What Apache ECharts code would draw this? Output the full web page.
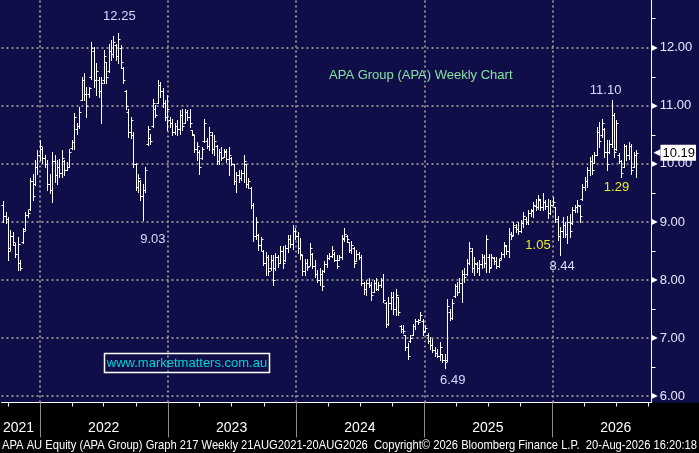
<!DOCTYPE html>
<html>
<head>
<meta charset="utf-8">
<script src="https://cdn.jsdelivr.net/npm/echarts@6/dist/echarts.min.js"></script>
<style>
html,body{margin:0;padding:0;background:#000;}
#c{width:699px;height:453px;}
</style>
</head>
<body>
<div id="c"></div>
<script>
// ---- DATA (weekly OHLC, APA Group) ----
const firstBarDate = '2021-09-17';
const opens = [
9.30,9.10,9.05,8.55,8.75,8.60,8.45,8.30,8.65,8.88,
9.12,9.22,9.70,9.65,9.95,10.15,10.25,10.10,10.00,9.65,
9.55,10.05,9.80,9.95,9.85,10.05,9.90,9.95,10.28,10.38,
10.60,10.65,11.10,11.45,11.20,11.20,11.50,11.95,11.45,11.45,
11.25,11.45,11.75,11.60,11.95,11.90,12.05,11.85,12.00,11.65,
11.25,10.90,10.55,10.50,10.00,9.60,9.70,9.45,9.55,10.35,
10.45,10.65,10.95,11.05,11.35,11.25,11.05,10.80,10.75,10.70,
10.55,10.65,10.60,10.85,10.70,10.90,10.80,10.58,10.50,10.25,
10.20,10.10,10.40,10.40,10.30,10.50,10.25,10.30,10.05,10.20,
10.12,10.20,10.08,10.10,10.00,9.70,9.80,9.75,9.85,10.00,
9.65,9.58,9.30,8.75,8.78,8.60,8.50,8.30,8.40,8.20,
8.35,8.20,8.40,8.30,8.50,8.35,8.55,8.70,8.62,8.85,
8.75,8.55,8.43,8.15,8.30,8.25,8.45,8.25,8.10,8.00,
8.10,8.15,8.28,8.38,8.42,8.45,8.35,8.35,8.40,8.72,
8.75,8.65,8.52,8.55,8.32,8.45,8.40,7.95,7.85,7.95,
7.92,7.80,7.95,7.85,7.92,8.00,7.60,7.25,7.60,7.70,
7.50,7.70,7.20,7.15,7.05,6.85,6.95,7.05,7.20,7.30,
7.32,7.30,7.13,7.05,6.95,6.88,6.80,6.75,6.70,6.72,
6.62,6.62,7.45,7.35,7.72,7.90,7.80,7.95,8.10,8.10,
8.30,8.50,8.20,8.28,8.20,8.28,8.40,8.30,8.40,8.22,
8.38,8.32,8.25,8.38,8.45,8.58,8.50,8.80,8.78,8.92,
8.88,8.85,8.98,9.05,9.00,9.15,9.18,9.28,9.25,9.38,
9.25,9.35,9.28,9.15,9.30,9.25,9.05,8.75,8.85,8.95,
8.80,9.00,8.98,9.20,9.25,9.28,9.40,9.60,9.70,9.90,
10.05,10.02,10.15,10.55,10.50,10.60,10.20,10.20,10.35,10.85,
10.25,10.15,10.05,9.95,10.30,10.15,10.30,9.95,10.15
];
const highs = [
9.36,9.17,9.09,8.87,8.83,8.63,8.74,8.34,8.89,9.17,
9.20,9.75,9.83,10.06,10.24,10.41,10.29,10.15,10.06,9.83,
10.21,10.15,10.06,10.09,10.24,10.06,10.03,10.26,10.41,10.87,
10.70,10.98,11.50,11.56,11.33,11.33,12.10,12.02,11.73,11.50,
11.50,11.96,11.76,12.07,12.13,12.20,12.07,12.25,12.05,11.67,
11.27,10.95,10.81,10.55,10.01,9.83,9.72,9.66,9.94,10.66,
10.52,11.12,11.01,11.44,11.41,11.30,11.10,11.18,10.81,10.78,
10.70,10.75,10.93,10.95,10.95,10.93,10.95,10.58,10.50,10.38,
10.24,10.29,10.78,10.44,10.64,10.55,10.50,10.32,10.26,10.29,
10.26,10.26,10.29,10.12,10.00,9.86,9.89,9.89,10.15,10.00,
9.75,9.60,9.32,9.09,8.80,8.74,8.52,8.49,8.43,8.43,
8.43,8.46,8.43,8.58,8.58,8.60,8.77,8.77,8.95,8.89,
8.83,8.72,8.43,8.37,8.37,8.63,8.46,8.35,8.17,8.20,
8.17,8.32,8.43,8.46,8.58,8.49,8.43,8.43,8.77,8.89,
8.77,8.66,8.68,8.57,8.52,8.49,8.43,7.97,8.00,8.03,
7.97,8.00,8.03,7.97,8.03,8.11,7.62,7.71,7.79,7.79,
7.85,7.71,7.22,7.22,7.05,6.91,7.05,7.25,7.33,7.33,
7.45,7.33,7.22,7.08,7.02,6.99,6.85,6.82,6.94,6.73,
6.73,7.68,7.50,7.68,7.94,7.97,8.03,8.17,8.20,8.37,
8.66,8.55,8.40,8.31,8.34,8.45,8.43,8.77,8.45,8.45,
8.40,8.40,8.37,8.49,8.66,8.60,8.89,8.83,9.00,8.97,
9.00,9.03,9.17,9.09,9.20,9.23,9.34,9.40,9.46,9.40,
9.49,9.37,9.40,9.37,9.43,9.26,9.11,8.91,9.09,9.00,
9.11,9.14,9.26,9.29,9.37,9.29,9.65,9.78,9.95,10.12,
10.15,10.21,10.64,10.72,10.78,10.61,10.41,10.41,11.10,10.87,
10.75,10.18,10.06,10.35,10.32,10.38,10.35,10.21,10.24
];
const lows = [
9.00,8.99,8.35,8.51,8.60,8.40,8.17,8.18,8.63,8.86,
9.09,9.20,9.37,9.63,9.83,10.06,10.01,9.95,9.55,9.49,
9.34,9.69,9.66,9.78,9.78,9.80,9.89,9.95,10.26,10.26,
10.52,10.61,11.10,11.10,10.81,11.16,11.47,11.33,11.18,11.16,
10.70,11.39,11.39,11.59,11.79,11.84,11.79,11.73,11.65,11.39,
10.95,10.47,10.44,9.95,9.55,9.52,9.37,9.03,9.52,10.32,
10.35,10.64,10.81,11.04,11.16,10.98,10.75,10.58,10.64,10.50,
10.52,10.50,10.52,10.58,10.70,10.75,10.64,10.50,10.21,10.06,
9.83,10.09,10.38,10.27,10.24,10.18,10.15,10.00,10.00,10.06,
10.12,10.04,9.80,9.98,9.66,9.52,9.69,9.72,9.69,9.60,
9.58,9.24,8.68,8.71,8.52,8.52,8.26,8.09,8.09,8.17,
7.92,8.17,8.23,8.29,8.20,8.32,8.49,8.57,8.54,8.71,
8.46,8.37,8.09,8.09,8.17,8.26,8.20,8.06,7.97,7.92,
7.83,8.14,8.23,8.37,8.40,8.32,8.20,8.35,8.37,8.68,
8.66,8.49,8.46,8.23,8.32,8.37,7.91,7.76,7.74,7.88,
7.65,7.80,7.82,7.82,7.88,7.62,7.19,7.22,7.50,7.42,
7.39,7.39,7.11,7.08,6.79,6.64,6.94,7.05,7.16,7.25,
7.31,7.05,7.13,6.91,6.82,6.76,6.70,6.67,6.62,6.58,
6.49,6.60,7.31,7.33,7.71,7.74,7.80,7.62,7.97,8.08,
8.28,8.14,8.08,8.14,8.08,8.20,8.22,8.14,8.14,8.22,
8.28,8.20,8.22,8.37,8.40,8.45,8.40,8.71,8.77,8.83,
8.80,8.83,8.91,8.97,8.97,9.11,9.08,9.20,9.23,9.20,
9.20,9.23,9.06,9.14,9.29,9.00,8.69,8.43,8.74,8.74,
8.63,8.74,8.97,9.17,9.17,9.00,9.37,9.55,9.61,9.80,
9.83,10.01,10.15,10.29,10.46,10.12,9.89,10.18,10.29,10.12,
10.24,10.01,9.78,9.95,10.06,10.09,9.83,9.95,9.78
];
const closes = [
9.10,9.05,8.50,8.75,8.65,8.45,8.62,8.20,8.85,9.12,
9.15,9.70,9.45,9.95,10.15,10.30,10.10,10.00,9.65,9.55,
10.05,9.80,9.95,9.85,10.10,9.90,9.95,10.20,10.38,10.80,
10.65,10.90,11.45,11.20,11.00,11.30,12.00,11.45,11.60,11.25,
11.40,11.85,11.50,11.95,11.90,12.10,11.85,12.15,11.75,11.45,
11.00,10.55,10.75,10.00,9.60,9.75,9.45,9.55,9.90,10.60,
10.40,11.05,10.85,11.35,11.25,11.05,10.80,10.95,10.70,10.55,
10.65,10.60,10.85,10.65,10.90,10.80,10.70,10.52,10.25,10.30,
9.95,10.25,10.70,10.30,10.55,10.25,10.40,10.05,10.20,10.10,
10.22,10.08,10.15,10.00,9.70,9.80,9.75,9.85,10.05,9.65,
9.70,9.30,8.75,9.00,8.60,8.70,8.30,8.40,8.15,8.35,
8.00,8.40,8.30,8.50,8.30,8.55,8.70,8.62,8.85,8.75,
8.55,8.45,8.15,8.30,8.22,8.55,8.25,8.10,8.00,8.10,
7.90,8.28,8.38,8.42,8.52,8.35,8.25,8.40,8.70,8.80,
8.70,8.52,8.60,8.30,8.45,8.40,7.95,7.85,7.95,7.92,
7.75,7.95,7.85,7.92,8.00,7.65,7.25,7.60,7.70,7.50,
7.75,7.45,7.15,7.12,6.85,6.70,7.00,7.20,7.30,7.28,
7.40,7.10,7.18,6.95,6.88,6.80,6.75,6.70,6.85,6.62,
6.58,7.55,7.35,7.60,7.90,7.80,7.95,8.10,8.05,8.30,
8.55,8.20,8.30,8.20,8.28,8.40,8.30,8.70,8.20,8.40,
8.32,8.25,8.35,8.45,8.60,8.50,8.80,8.75,8.95,8.88,
8.85,8.98,9.10,9.00,9.15,9.20,9.30,9.25,9.40,9.25,
9.35,9.28,9.15,9.30,9.35,9.05,8.75,8.85,8.95,8.80,
9.00,8.85,9.20,9.25,9.30,9.10,9.60,9.70,9.90,10.05,
9.90,10.15,10.55,10.40,10.70,10.20,10.00,10.35,10.85,10.20,
10.70,10.05,9.85,10.30,10.15,10.30,9.90,10.15,10.19
];
const yTickValues = [6, 7, 8, 9, 10, 11, 12];
const yearLabels = ['2021', '2022', '2023', '2024', '2025', '2026'];
const annoText  = ['12.25', '9.03', '11.10', '6.49', '8.44', '1.05', '1.29'];
const annoBar   = [47, 57, 248, 180, 227, 218, 250];
const annoValue = [12.25, 9.03, 11.10, 6.49, 8.44, 8.60, 9.60];
const annoKind  = ['hl', 'hl', 'hl', 'hl', 'hl', 'chg', 'chg'];
const titleText = 'APA Group (APA) Weekly Chart';
const footerText = 'APA AU Equity (APA Group) Graph 217 Weekly 21AUG2021-20AUG2026  Copyright\u00A9 2026 Bloomberg Finance L.P.  20-Aug-2026 16:20:18';
const watermarkText = 'www.marketmatters.com.au';

// ---- BUILD ----
const DAY = 86400000;
const t0 = Date.parse(firstBarDate + 'T00:00:00Z');
const dates = opens.map((_, i) => t0 + i * 7 * DAY);
const ohlc = dates.map((d, i) => [d, opens[i], highs[i], lows[i], closes[i]]);

const xMin = Date.UTC(2021, 8, 12, 12);
const xMax = Date.UTC(2026, 9, 11);
const yearStarts = [2022, 2023, 2024, 2025, 2026].map(y => Date.UTC(y, 0, 1));
const quarterTicks = [];
for (let y = 2021; y <= 2026; y++) {
  [3, 6, 9].forEach(m => {
    const t = Date.UTC(y, m, 1);
    if (t > xMin && t < xMax) quarterTicks.push(t);
  });
}
const yearLabelPos = [Date.UTC(2021, 9, 31)].concat([2022, 2023, 2024, 2025, 2026].map(y => Date.UTC(y, 6, 1)));
const halfTicks = [];
for (let v = 6.5; v <= 12.5; v += 1) halfTicks.push(v);

const NAVY = '#100e48';
const GRID_COLOR = '#8a8a8a';
const lastClose = closes[closes.length - 1];

// footer: condensed rendering of a regular sans to fit the strip width
const FOOTER_FONT = '13px "Liberation Sans", Arial, sans-serif';
const mctx = document.createElement('canvas').getContext('2d');
mctx.font = FOOTER_FONT;
const footerScale = 695 / mctx.measureText(footerText).width;

const annoOffsets = [[1, -17], [10, 19], [-6, -10], [8, 13], [2, 12], [0, 0], [0, 0]];
const markPoints = annoText.map((txt, k) => ({
  coord: [dates[annoBar[k]], annoValue[k]],
  symbol: 'rect',
  symbolSize: 1,
  itemStyle: { color: 'rgba(0,0,0,0)' },
  label: {
    show: true,
    formatter: txt,
    position: 'inside',
    offset: annoOffsets[k],
    color: annoKind[k] === 'hl' ? '#d2defc' : '#ecec1e',
    fontSize: 13,
    fontFamily: 'Liberation Sans'
  }
}));

const gridLines = yTickValues.map(v => ({ yAxis: v }))
  .concat(yearStarts.map(t => ({ xAxis: t })));

function renderOHLC(params, api) {
  const t = api.value(0);
  const pO = api.coord([t, api.value(1)]);
  const pH = api.coord([t, api.value(2)]);
  const pL = api.coord([t, api.value(3)]);
  const pC = api.coord([t, api.value(4)]);
  const x = Math.round(pH[0]) + 0.5;
  const yo = Math.round(pO[1]) + 0.5;
  const yc = Math.round(pC[1]) + 0.5;
  const st = { stroke: '#ffffff', lineWidth: 1 };
  return {
    type: 'group',
    children: [
      { type: 'line', shape: { x1: x, y1: Math.round(pH[1]), x2: x, y2: Math.round(pL[1]) + 1 }, style: st },
      { type: 'line', shape: { x1: x - 2, y1: yo, x2: x, y2: yo }, style: st },
      { type: 'line', shape: { x1: x, y1: yc, x2: x + 2, y2: yc }, style: st }
    ]
  };
}

const chart = echarts.init(document.getElementById('c'));
chart.setOption({
  animation: false,
  backgroundColor: '#000000',
  title: [
    {
      text: titleText, left: 329, top: 69, padding: 0,
      textStyle: { color: '#84e0a2', fontSize: 13, fontWeight: 'normal', fontFamily: 'Liberation Sans' }
    }
  ],
  graphic: [
    { type: 'rect', z: -100, silent: true, shape: { x: 0, y: 0, width: 699, height: 402.5 }, style: { fill: NAVY } },
    { type: 'rect', z: 10, silent: true, shape: { x: 104.5, y: 353.5, width: 165, height: 19 }, style: { fill: 'none', stroke: '#ffffff', lineWidth: 1.5 } },
    { type: 'text', z: 10, silent: true, x: 187, y: 363, style: { text: watermarkText, fill: '#00d2d2', font: '13px "Liberation Sans"', align: 'center', verticalAlign: 'middle' } },
    { type: 'text', z: 10, silent: true, x: 2, y: 445, scaleX: footerScale, style: { text: footerText, fill: '#ffffff', font: FOOTER_FONT, align: 'left', verticalAlign: 'middle' } }
  ],
  grid: { left: 0, top: 0, right: 44, bottom: 50.5, containLabel: false },
  xAxis: [
    {
      type: 'value', min: xMin, max: xMax, position: 'bottom',
      axisLine: { show: true, lineStyle: { color: '#ffffff', width: 1 } },
      axisTick: { show: true, customValues: quarterTicks, length: 4, lineStyle: { color: '#ffffff' } },
      axisLabel: {
        show: true, customValues: yearLabelPos, margin: 19,
        color: '#ffffff', fontSize: 14, fontFamily: '"Liberation Sans", Arial, sans-serif',
        formatter: function (v) {
          const k = yearLabelPos.indexOf(v);
          return k >= 0 ? yearLabels[k] : '';
        }
      },
      splitLine: { show: false }
    },
    {
      type: 'value', min: xMin, max: xMax, position: 'bottom',
      axisLine: { show: false },
      axisTick: { show: true, customValues: yearStarts, length: 35, lineStyle: { color: '#8c8c8c' } },
      axisLabel: { show: false },
      splitLine: { show: false }
    }
  ],
  yAxis: [
    {
      type: 'value', position: 'right', min: 5.891, max: 12.822,
      axisLine: { show: true, lineStyle: { color: '#ffffff', width: 1 } },
      axisTick: { show: true, customValues: halfTicks, length: 4, lineStyle: { color: '#ffffff' } },
      axisLabel: {
        show: true, customValues: yTickValues, margin: 0,
        formatter: function (v) { return '{t|\u25B6}{v|' + Number(v).toFixed(2) + '}'; },
        rich: {
          t: { color: '#ffffff', fontSize: 8, fontFamily: 'DejaVu Sans' },
          v: { color: '#e6e6ff', fontSize: 13, fontFamily: 'Liberation Sans', padding: [0, 0, 0, 2] }
        }
      },
      splitLine: { show: false }
    },
    {
      type: 'value', position: 'right', min: 5.891, max: 12.822,
      axisLine: { show: false },
      axisTick: { show: false },
      splitLine: { show: false },
      axisLabel: {
        show: true, customValues: [lastClose], margin: 2,
        formatter: function (v) { return '{a|\u25C0}{b|' + Number(v).toFixed(2) + '}'; },
        rich: {
          a: { color: '#ffffff', fontSize: 9, fontFamily: 'DejaVu Sans' },
          b: { backgroundColor: '#ffffff', color: '#000000', fontSize: 13, fontFamily: 'Liberation Sans', padding: [2, 1, 1, 2] }
        }
      }
    }
  ],
  series: [
    {
      type: 'custom',
      name: 'APA',
      renderItem: renderOHLC,
      data: ohlc,
      encode: { x: 0, y: [1, 2, 3, 4] },
      z: 3,
      markLine: {
        silent: true, z: 1, symbol: ['none', 'none'],
        label: { show: false },
        lineStyle: { color: GRID_COLOR, type: [2, 3], width: 2 },
        data: gridLines
      },
      markPoint: { silent: true, z: 6, data: markPoints }
    }
  ]
});
</script>
</body>
</html>
